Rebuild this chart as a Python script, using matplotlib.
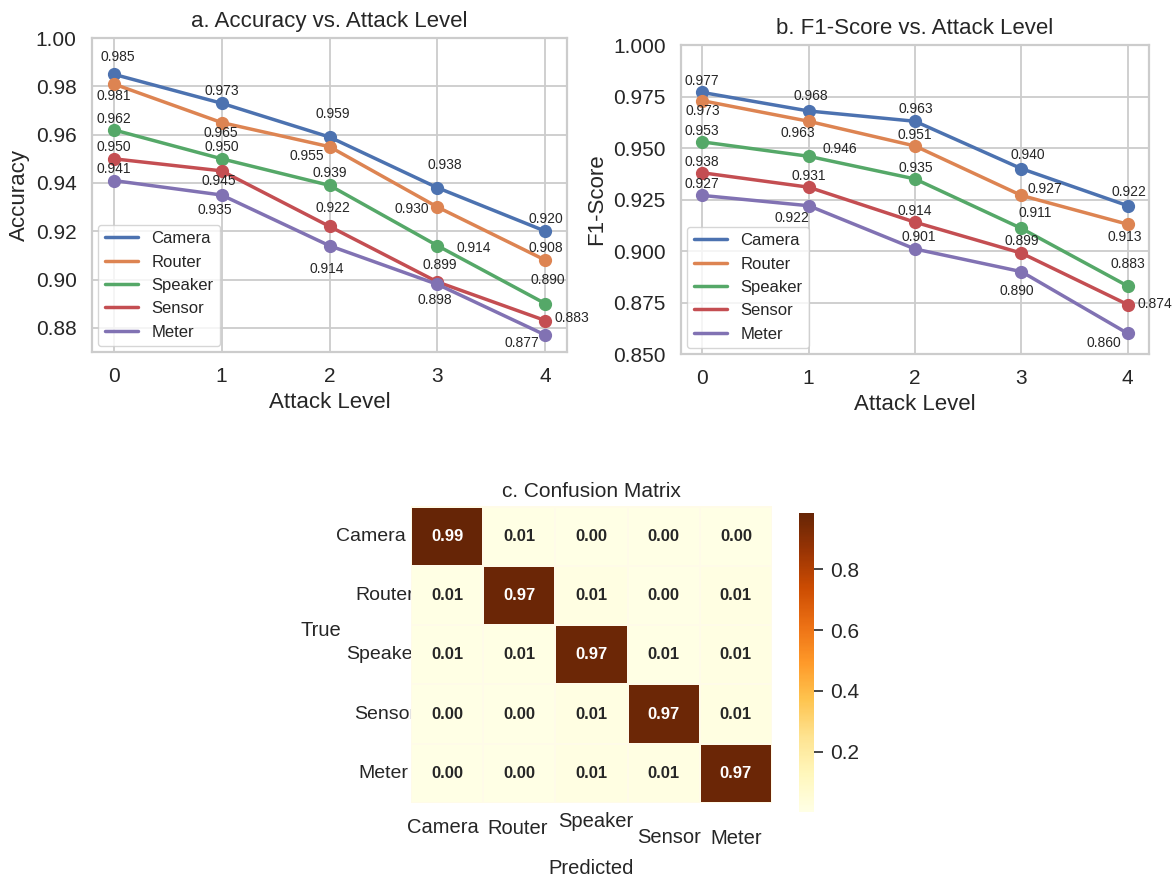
import matplotlib
matplotlib.use('Agg')
import matplotlib.pyplot as plt
import numpy as np
import seaborn as sns
from matplotlib.transforms import ScaledTranslation

sns.set_theme(style='whitegrid')
plt.rcParams['font.family'] = ['Liberation Sans', 'DejaVu Sans']

# data
levels = [0, 1, 2, 3, 4]
devices = ['Camera', 'Router', 'Speaker', 'Sensor', 'Meter']

acc_camera = [0.985, 0.973, 0.959, 0.938, 0.920]
acc_router = [0.981, 0.965, 0.955, 0.930, 0.908]
acc_speaker = [0.962, 0.950, 0.939, 0.914, 0.890]
acc_sensor = [0.950, 0.945, 0.922, 0.899, 0.883]
acc_meter = [0.941, 0.935, 0.914, 0.898, 0.877]

f1_camera = [0.977, 0.968, 0.963, 0.940, 0.922]
f1_router = [0.973, 0.963, 0.951, 0.927, 0.913]
f1_speaker = [0.953, 0.946, 0.935, 0.911, 0.883]
f1_sensor = [0.938, 0.931, 0.914, 0.899, 0.874]
f1_meter = [0.927, 0.922, 0.901, 0.890, 0.860]

cm_camera = [0.986, 0.008, 0.003, 0.002, 0.001]
cm_router = [0.006, 0.972, 0.009, 0.004, 0.009]
cm_speaker = [0.007, 0.006, 0.970, 0.008, 0.009]
cm_sensor = [0.003, 0.004, 0.011, 0.968, 0.014]
cm_meter = [0.002, 0.004, 0.012, 0.010, 0.972]

# label offsets (pixels, dx right / dy down) so the numbers don't overlap
acc_offsets = [
    [(4, -17), (0, -12), (3, -23), (7, -23), (0, -12)],
    [(0, 12), (-1, 10), (-23, 9), (-26, 2), (0, -12)],
    [(0, -11), (0, -12), (0, -12), (36, 2), (2, -24)],
    [(0, -12), (-3, 10), (3, -18), (2, -17), (26, -3)],
    [(0, -12), (-7, 15), (-3, 23), (-3, 16), (-24, 8)],
]
f1_offsets = [
    [(0, -11), (2, -15), (1, -12), (6, -14), (1, -14)],
    [(1, 10), (-11, 12), (0, -11), (23, -6), (-3, 13)],
    [(0, -11), (31, -7), (1, -11), (14, -15), (0, -22)],
    [(0, -11), (0, -11), (0, -11), (0, -12), (27, -1)],
    [(0, -11), (-17, 12), (4, -12), (-5, 19), (-24, 10)],
]

palette = sns.color_palette('deep')

fig = plt.figure(figsize=(11.75, 8.82), dpi=100)
ax1 = fig.add_axes([0.0783, 0.6009, 0.4043, 0.356])
ax2 = fig.add_axes([0.5796, 0.5986, 0.3983, 0.3503])
ax3 = fig.add_axes([0.3498, 0.0896, 0.3072, 0.356])
cax = fig.add_axes([0.680, 0.0794, 0.0128, 0.339])


def line_panel(ax, series, offsets, title, ylabel, ylim, yticks, yfmt):
    for name, vals, offs, col in zip(devices, series, offsets, palette):
        ax.plot(levels, vals, lw=2.5, color=col, label=name)
        ax.plot(levels, vals, 'o', ms=8.5, color=col)
        for x, v, (dx, dy) in zip(levels, vals, offs):
            ax.annotate(f'{v:.3f}', (x, v), xytext=(dx, -dy), textcoords='offset pixels',
                        ha='center', va='center', fontsize=10, color='.15')
    ax.set_xlim(-0.2, 4.2)
    ax.set_ylim(*ylim)
    ax.set_xticks(levels)
    ax.set_yticks(yticks)
    ax.set_yticklabels([yfmt % t for t in yticks])
    ax.tick_params(labelsize=15, length=0, pad=11)
    ax.set_title(title, fontsize=16, pad=8)
    ax.set_xlabel('Attack Level', fontsize=16)
    ax.set_ylabel(ylabel, fontsize=16)
    ax.grid(True, color='.8', lw=1.3)
    for s in ax.spines.values():
        s.set_color('.8')
        s.set_linewidth(1.6)
    ax.legend(loc='lower left', fontsize=12, frameon=True, edgecolor='.8',
              borderaxespad=0.35, handlelength=2.0)


line_panel(ax1, [acc_camera, acc_router, acc_speaker, acc_sensor, acc_meter], acc_offsets,
           'a. Accuracy vs. Attack Level', 'Accuracy', (0.87, 1.0),
           np.arange(0.88, 1.001, 0.02), '%.2f')
line_panel(ax2, [f1_camera, f1_router, f1_speaker, f1_sensor, f1_meter], f1_offsets,
           'b. F1-Score vs. Attack Level', 'F1-Score', (0.85, 1.0),
           np.arange(0.85, 1.001, 0.025), '%.3f')

# confusion matrix
cm = np.array([cm_camera, cm_router, cm_speaker, cm_sensor, cm_meter])
sns.heatmap(cm, annot=True, fmt='.2f', cmap='YlOrBr', ax=ax3, cbar_ax=cax,
            linewidths=0.3, linecolor='#fffbe8',
            annot_kws={'fontsize': 12, 'fontweight': 'bold'},
            xticklabels=devices, yticklabels=devices)
ax3.set_ylim(5, -0.3)
ax3.set_axisbelow(True)
ax3.grid(False)
ax3.set_title('c. Confusion Matrix', fontsize=15, y=1 - 8 / 314, pad=0)
ax3.tick_params(axis='x', length=0, pad=11, labelsize=14.5, labelrotation=0)
ax3.tick_params(axis='y', length=0, pad=-2.2, labelsize=14, labelrotation=0)
ax3.set_xlabel('Predicted', fontsize=14.5)
ax3.xaxis.set_label_coords(0.5, -0.178)
ax3.set_ylabel('True', fontsize=14.5, rotation=0, va='center', ha='center')
ax3.yaxis.set_label_coords(-0.249, 0.55)

# the tick labels sit slightly staggered in the original
xlabel_shift = [(-4, 0), (-2, 1), (4, -6), (5, 10), (0, 11)]
ylabel_shift = [-8, 0, 5, 2, -6]
for lbl, (dx, dy) in zip(ax3.get_xticklabels(), xlabel_shift):
    lbl.set_transform(lbl.get_transform() + ScaledTranslation(dx / 100, -dy / 100, fig.dpi_scale_trans))
for lbl, dx in zip(ax3.get_yticklabels(), ylabel_shift):
    lbl.set_transform(lbl.get_transform() + ScaledTranslation(dx / 100, 0, fig.dpi_scale_trans))

cax.tick_params(length=6.5, width=1.2, color='.15', labelsize=15, pad=5)

fig.savefig('out.png', dpi=100)
